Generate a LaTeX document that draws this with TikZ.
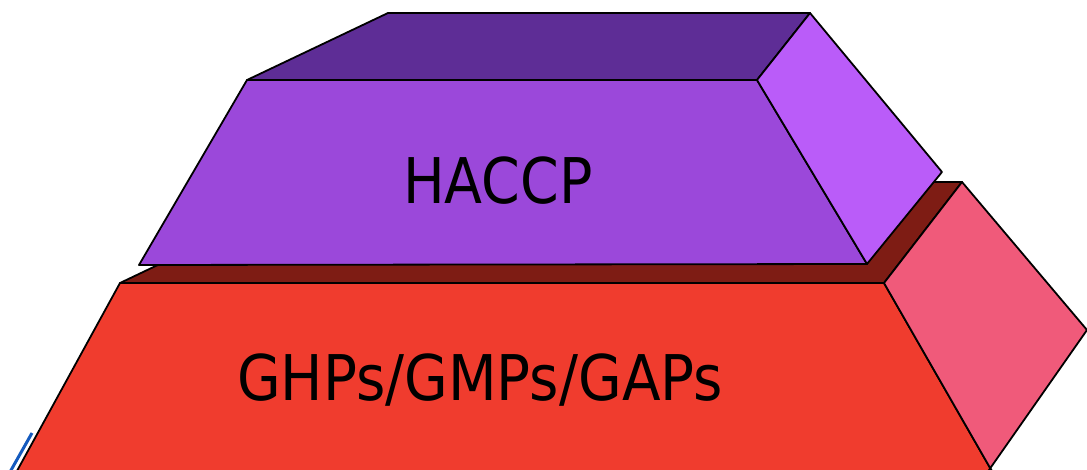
\documentclass[tikz,border=0pt]{standalone}
\usepackage{fontspec}
\usepackage{graphicx}
\setmainfont{DejaVu Sans}
\definecolor{pfront}{RGB}{155,72,218}
\definecolor{ptop}{RGB}{94,45,150}
\definecolor{pside}{RGB}{186,92,249}
\definecolor{rtop}{RGB}{126,28,20}
\definecolor{rfront}{RGB}{240,60,46}
\definecolor{rside}{RGB}{240,90,122}
\definecolor{bluefrag}{RGB}{20,90,190}
\tikzset{face/.style={draw=black,line width=1.8pt,line join=round},
  lbl/.style={inner sep=0pt,font=\fontsize{63}{63}\selectfont}}
\begin{document}
\begin{tikzpicture}[x=1pt,y=-1pt]
\useasboundingbox (0,0) rectangle (1087,470);
\clip (0,0) rectangle (1087,470);
% lower block
\draw[face,fill=rtop] (120,283) -- (332,182) -- (962,182) -- (884,283) -- cycle;
\draw[face,fill=rfront] (120,283) -- (884,283) -- (997,480) -- (12,480) -- cycle;
\draw[face,fill=rside] (884,283) -- (962,182) -- (1087,330) -- (982,480) -- (997,480) -- cycle;
\draw[bluefrag,line width=3pt] (32,433) -- (10,472);
% upper block
\draw[face,fill=ptop] (247,80) -- (388,13) -- (810,13) -- (757,80) -- cycle;
\draw[face,fill=pfront] (247,80) -- (757,80) -- (867,264) -- (139,265) -- cycle;
\draw[face,fill=pside] (757,80) -- (810,13) -- (942,172) -- (867,264) -- cycle;
\node[lbl] (haccp) at (498,181) {\scalebox{0.88}[1]{HACCP}};
\node[lbl] (ghp) at (480,380) {\scalebox{0.895}[1]{GHPs/GMPs/GAPs}};
\end{tikzpicture}
\end{document}
